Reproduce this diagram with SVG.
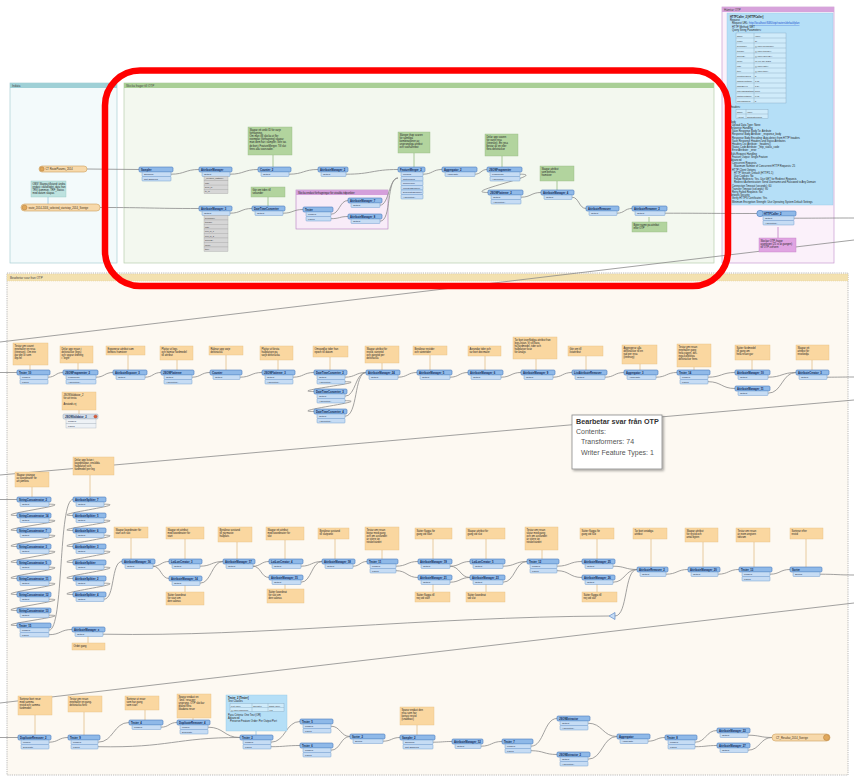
<svg xmlns="http://www.w3.org/2000/svg" width="854" height="778" viewBox="0 0 854 778">
<style>
.nh{fill:#8fb9e8;stroke:#4a7bbd;stroke-width:0.6;rx:1.2}
.np{fill:#c6dcf4;stroke:#6a97ce;stroke-width:0.45;rx:0.8}
.nd{fill:#d3dde9;stroke:#9aaabb;stroke-width:0.5;rx:1.2}
.npd{fill:#eef2f6;stroke:#a8b4c0;stroke-width:0.4}
.gr{fill:#d6d6d6;stroke:#a3a3a3;stroke-width:0.35}
.nt{font-family:"Liberation Sans",Arial,sans-serif;font-size:2.7px;font-weight:bold;fill:#0c2550}
.pt{font-family:"Liberation Sans",Arial,sans-serif;font-size:2.4px;fill:#1d2f4a}
.gt{font-family:"Liberation Sans",Arial,sans-serif;font-size:2.2px;fill:#333}
.at{font-family:"Liberation Sans",Arial,sans-serif;font-size:2.6px;fill:#222}
.bt{font-family:"Liberation Sans",Arial,sans-serif;font-size:3px;fill:#444}
.ao{fill:#fad7a0;stroke:#e5bf80;stroke-width:0.4}
.ag{fill:#b2d49e;stroke:#96bb84;stroke-width:0.4}
.ab{fill:#b5dff7;stroke:#95c7e4;stroke-width:0.4}
.at2{fill:#bde2df;stroke:#93c6c2;stroke-width:0.4}
.ap{fill:#e0a4e2;stroke:#c07fc4;stroke-width:0.4}
.c{fill:none;stroke:#8a8a8a;stroke-width:0.8}
.lo{stroke:#e2c08a;stroke-width:0.8}
.lg{stroke:#96bb84;stroke-width:0.8}
.lp{stroke:#c07fc4;stroke-width:0.8}
.lb{stroke:#95c7e4;stroke-width:0.8}
.rd{fill:#f7d9ab;stroke:#cf9f5c;stroke-width:0.6}
.rdc{fill:#e0a85c;stroke:#b07a3a;stroke-width:0.5}
.rt{font-family:"Liberation Sans",Arial,sans-serif;font-size:2.6px;fill:#3a2a10}
.tb{fill:none;stroke:#7a9cb8;stroke-width:0.35}
</style>
<defs>
<filter id="sh" x="-10%" y="-10%" width="130%" height="130%"><feDropShadow dx="1.5" dy="1.5" stdDeviation="1" flood-color="#000" flood-opacity="0.35"/></filter>
</defs>
<rect width="854" height="778" fill="#ffffff"/>

<g id="bookmarks">
<g id="bm-indata"><rect x="10" y="83" width="107" height="180" fill="#f3fafb" stroke="#a9cfd4" stroke-width="0.7"/><rect x="10" y="83" width="107" height="5" fill="#9fd0d6"/><text class="bt" x="12" y="87">Indata</text></g>
<g id="bm-skicka"><rect x="124" y="83" width="590" height="180" fill="#f3f8ef" stroke="#b8cfae" stroke-width="0.7"/><rect x="124" y="83" width="590" height="5" fill="#a9cf96"/><text class="bt" x="126" y="87">Skicka frågor till OTP</text></g>
<g id="bm-hamtar"><rect x="722" y="7" width="112" height="256" fill="#fbf1fa" stroke="#c99bd0" stroke-width="0.7"/><rect x="722" y="7" width="112" height="5" fill="#d7a3db"/><text class="bt" x="724" y="11">Hämtar OTP</text></g>
<g id="bm-bearbetar"><rect x="7" y="273" width="841" height="502" fill="#fdf9f2" stroke="#a8a8a8" stroke-width="0.8" stroke-dasharray="1.2 1"/><rect x="7" y="274" width="841" height="7" fill="#f3e1b0" stroke="#d8c48e" stroke-width="0.4" stroke-dasharray="1 1"/><text class="bt" x="10" y="279">Bearbetar svar från OTP</text></g>
<g id="bm-urval"><rect x="296" y="190" width="92" height="39" fill="#f8ecf8" stroke="#b57ec0" stroke-width="0.6"/><rect x="296" y="190" width="92" height="5" fill="#d49fdb"/><text class="at" x="298" y="193.6">Skicka endast förfrågningar för utvalda tidpunkter</text></g>
</g>

<g id="connectors">
<path class="c" d="M0,342 L854,240"/>
<path class="c" d="M0,475 L854,400"/>
<path class="c" d="M0,703 L854,603"/>
<path class="c" d="M87,169 L139,169.5"/>
<path class="c" d="M171,174.2 C185,174.2 185,169.5 199,169.5"/>
<path class="c" d="M230,174.2 C244,174.2 244,169.5 258,169.5"/>
<path class="c" d="M289,174.2 C303.5,174.2 303.5,169.5 318,169.5"/>
<path class="c" d="M346,174.2 C372,174.2 372,169.5 398,169.5"/>
<path class="c" d="M100,207.5 C150,207.5 150,208.5 199,208.5"/>
<path class="c" d="M230,213.2 C241,213.2 241,208.5 252,208.5"/>
<path class="c" d="M283,213.2 C293,213.2 293,209.5 303,209.5"/>
<path class="c" d="M331,214.2 C339.5,214.2 339.5,200.5 348,200.5"/>
<path class="c" d="M331,218.7 C339.5,218.7 339.5,216.5 348,216.5"/>
<path class="c" d="M380,205.2 C389,205.2 389,178 398,178"/>
<path class="c" d="M380,221.2 C392,221.2 386,178 398,178"/>
<path class="c" d="M423,174.2 C432.5,174.2 432.5,169.5 442,169.5"/>
<path class="c" d="M475,174.2 C481,174.2 481,169.5 487,169.5"/>
<path class="c" d="M520,174.2 C550,174.2 458,192.5 488,192.5"/>
<path class="c" d="M521,197.2 C531,197.2 531,192.5 541,192.5"/>
<path class="c" d="M572,197.2 C579,197.2 579,208.5 586,208.5"/>
<path class="c" d="M617,213.2 C624.5,213.2 624.5,208.5 632,208.5"/>
<path class="c" d="M665,213.2 C712,213.2 712,213.5 757,213.5"/>
<path class="c" d="M794,218.2 C824,218.2 824,218 854,218"/>
<line class="lg" x1="273" y1="155" x2="273" y2="167"/>
<line class="lg" x1="414" y1="153" x2="414" y2="167"/>
<line class="lg" x1="502" y1="156" x2="502" y2="167"/>
<line class="lg" x1="557" y1="181" x2="557" y2="190"/>
<line class="lg" x1="268" y1="197" x2="268" y2="206"/>
<line class="lg" x1="649" y1="217" x2="649" y2="222"/>
<line class="lb" x1="48" y1="197" x2="48" y2="204"/>
<line class="lp" x1="778" y1="227" x2="778" y2="238"/>
<path class="c" d="M0,372.5 L17,372.5"/>
<path class="c" d="M48,377.2 C55.5,377.2 55.5,372.5 63,372.5"/>
<path class="c" d="M96,377.2 C104.5,377.2 104.5,372.5 113,372.5"/>
<path class="c" d="M145,377.2 C153,377.2 153,372.5 161,372.5"/>
<path class="c" d="M192,377.2 C201,377.2 201,372.5 210,372.5"/>
<path class="c" d="M240,377.2 C251,377.2 251,372.5 262,372.5"/>
<path class="c" d="M293,377.2 C303.5,377.2 303.5,372.5 314,372.5"/>
<path class="c" d="M345,377.2 C355.5,377.2 355.5,372.5 366,372.5"/>
<path class="c" d="M345,381.7 C375,381.7 284,391.5 314,391.5"/>
<path class="c" d="M345,396.2 C356,396.2 355,372.5 366,372.5"/>
<path class="c" d="M345,400.7 C375,400.7 284,411.5 314,411.5"/>
<path class="c" d="M345,416.2 C358,416.2 354,372.5 366,372.5"/>
<path class="c" d="M398,377.2 C407.5,377.2 407.5,372.5 417,372.5"/>
<path class="c" d="M450,377.2 C459,377.2 459,372.5 468,372.5"/>
<path class="c" d="M501,377.2 C511,377.2 511,372.5 521,372.5"/>
<path class="c" d="M553,377.2 C562.5,377.2 562.5,372.5 572,372.5"/>
<path class="c" d="M605,377.2 C614.5,377.2 614.5,372.5 624,372.5"/>
<path class="c" d="M656,377.2 C666.5,377.2 666.5,372.5 677,372.5"/>
<path class="c" d="M708,377.2 C721.5,377.2 721.5,372.5 735,372.5"/>
<path class="c" d="M708,381.7 C721.5,381.7 721.5,388.5 735,388.5"/>
<path class="c" d="M768,377.2 C782,377.2 782,372.5 796,372.5"/>
<path class="c" d="M768,393.2 C782,393.2 782,372.5 796,372.5"/>
<path class="c" d="M827,377.2 C840,377.2 840,377 854,377"/>
<line class="lo" x1="30" y1="365" x2="30" y2="370"/>
<line class="lo" x1="78" y1="363" x2="78" y2="370"/>
<line class="lo" x1="128" y1="355" x2="128" y2="370"/>
<line class="lo" x1="177" y1="360" x2="177" y2="370"/>
<line class="lo" x1="226" y1="355" x2="226" y2="370"/>
<line class="lo" x1="278" y1="360" x2="278" y2="370"/>
<line class="lo" x1="330" y1="357" x2="330" y2="370"/>
<line class="lo" x1="382" y1="363" x2="382" y2="370"/>
<line class="lo" x1="430" y1="355" x2="430" y2="370"/>
<line class="lo" x1="485" y1="356" x2="485" y2="370"/>
<line class="lo" x1="536" y1="359" x2="536" y2="370"/>
<line class="lo" x1="586" y1="356" x2="586" y2="370"/>
<line class="lo" x1="640" y1="364" x2="640" y2="370"/>
<line class="lo" x1="694" y1="367" x2="694" y2="370"/>
<line class="lo" x1="752" y1="360" x2="752" y2="370"/>
<line class="lo" x1="812" y1="360" x2="812" y2="370"/>
<line class="lo" x1="79" y1="410" x2="79" y2="414"/>
<path class="c" d="M0,499.5 L17,499.5"/>
<path class="c" d="M49,504.2 C79,504.2 -13,515.5 17,515.5"/>
<path class="c" d="M49,520.2 C79,520.2 -13,530.5 17,530.5"/>
<path class="c" d="M49,535.2 C79,535.2 -13,546.5 17,546.5"/>
<path class="c" d="M49,551.2 C79,551.2 -13,562.5 17,562.5"/>
<path class="c" d="M49,567.2 C79,567.2 -13,578.5 17,578.5"/>
<path class="c" d="M49,583.2 C79,583.2 -13,594.5 17,594.5"/>
<path class="c" d="M49,599.2 C79,599.2 -13,610.5 17,610.5"/>
<path class="c" d="M49,615.2 C79,615.2 -13,625.5 17,625.5"/>
<path class="c" d="M49,630.2 C64,630.2 58,499.5 73,499.5"/>
<path class="c" d="M49,634.7 C60.5,634.7 60.5,629.5 72,629.5"/>
<path class="c" d="M104,504.2 C134,504.2 43,515.5 73,515.5"/>
<path class="c" d="M104,520.2 C134,520.2 43,530.5 73,530.5"/>
<path class="c" d="M104,535.2 C134,535.2 43,546.5 73,546.5"/>
<path class="c" d="M104,551.2 C134,551.2 43,562.5 73,562.5"/>
<path class="c" d="M104,567.2 C134,567.2 43,578.5 73,578.5"/>
<path class="c" d="M104,583.2 C134,583.2 43,594.5 73,594.5"/>
<path class="c" d="M104,599.2 C115,599.2 111,561.5 122,561.5"/>
<path class="c" d="M103,634.2 C260,637 420,617 609,616"/>
<path class="c" d="M615,616 C628,616 624,569.5 637,569.5"/>
<path class="c" d="M153,566.2 C161,566.2 161,561.5 169,561.5"/>
<path class="c" d="M153,566.2 C161,566.2 161,578.5 169,578.5"/>
<path class="c" d="M200,566.2 C211.5,566.2 211.5,561.5 223,561.5"/>
<path class="c" d="M200,583.2 C211.5,583.2 211.5,561.5 223,561.5"/>
<path class="c" d="M253,566.2 C261,566.2 261,561.5 269,561.5"/>
<path class="c" d="M253,566.2 C261,566.2 261,577.5 269,577.5"/>
<path class="c" d="M301,566.2 C311.5,566.2 311.5,561.5 322,561.5"/>
<path class="c" d="M301,582.2 C311.5,582.2 311.5,561.5 322,561.5"/>
<path class="c" d="M353,566.2 C360,566.2 360,561.5 367,561.5"/>
<path class="c" d="M396,566.2 C407,566.2 407,561.5 418,561.5"/>
<path class="c" d="M396,570.7 C407,570.7 407,577.5 418,577.5"/>
<path class="c" d="M450,566.2 C460,566.2 460,561.5 470,561.5"/>
<path class="c" d="M450,566.2 C460,566.2 460,577.5 470,577.5"/>
<path class="c" d="M450,582.2 C460,582.2 460,577.5 470,577.5"/>
<path class="c" d="M503,566.2 C515,566.2 515,561.5 527,561.5"/>
<path class="c" d="M503,582.2 C515,582.2 515,561.5 527,561.5"/>
<path class="c" d="M557,566.2 C569.5,566.2 569.5,561.5 582,561.5"/>
<path class="c" d="M557,570.7 C569.5,570.7 569.5,577.5 582,577.5"/>
<path class="c" d="M613,566.2 C625,566.2 625,569.5 637,569.5"/>
<path class="c" d="M613,582.2 C625,582.2 625,569.5 637,569.5"/>
<path class="c" d="M666,574.2 C677,574.2 677,569.5 688,569.5"/>
<path class="c" d="M718,574.2 C728.5,574.2 728.5,569.5 739,569.5"/>
<path class="c" d="M770,574.2 C780,574.2 780,569.5 790,569.5"/>
<path class="c" d="M820,574.2 C837,574.2 837,575 854,575"/>
<line class="lo" x1="32" y1="487" x2="32" y2="497"/>
<line class="lo" x1="90" y1="475" x2="90" y2="497"/>
<line class="lo" x1="131" y1="538" x2="131" y2="559"/>
<line class="lo" x1="185" y1="539" x2="185" y2="559"/>
<line class="lo" x1="185" y1="585" x2="185" y2="592"/>
<line class="lo" x1="237" y1="542" x2="237" y2="559"/>
<line class="lo" x1="285" y1="540" x2="285" y2="559"/>
<line class="lo" x1="285" y1="584" x2="285" y2="589"/>
<line class="lo" x1="335" y1="539" x2="335" y2="559"/>
<line class="lo" x1="382" y1="550" x2="382" y2="559"/>
<line class="lo" x1="433" y1="539" x2="433" y2="559"/>
<line class="lo" x1="433" y1="584" x2="433" y2="592"/>
<line class="lo" x1="486" y1="539" x2="486" y2="559"/>
<line class="lo" x1="486" y1="584" x2="486" y2="592"/>
<line class="lo" x1="542" y1="550" x2="542" y2="559"/>
<line class="lo" x1="597" y1="539" x2="597" y2="559"/>
<line class="lo" x1="597" y1="584" x2="597" y2="592"/>
<line class="lo" x1="651" y1="539" x2="651" y2="567"/>
<line class="lo" x1="703" y1="542" x2="703" y2="567"/>
<line class="lo" x1="754" y1="542" x2="754" y2="567"/>
<line class="lo" x1="806" y1="539" x2="806" y2="567"/>
<line class="lo" x1="88" y1="636" x2="88" y2="643"/>
<path class="c" d="M0,737.5 L18,737.5"/>
<path class="c" d="M49,742.2 C58.5,742.2 58.5,737.5 68,737.5"/>
<path class="c" d="M98,742.2 C113.5,742.2 113.5,722.5 129,722.5"/>
<path class="c" d="M98,746.7 C170,748 175,737.5 240,737.5"/>
<path class="c" d="M161,727.2 C169,727.2 169,722.5 177,722.5"/>
<path class="c" d="M208,727.2 C224,727.2 224,737.5 240,737.5"/>
<path class="c" d="M271,742.2 C285.5,742.2 285.5,721.5 300,721.5"/>
<path class="c" d="M271,746.7 C285.5,746.7 285.5,745.5 300,745.5"/>
<path class="c" d="M331,726.2 C340.5,726.2 340.5,736.5 350,736.5"/>
<path class="c" d="M331,750.2 C340.5,750.2 340.5,736.5 350,736.5"/>
<path class="c" d="M383,741.2 C391.5,741.2 391.5,737.5 400,737.5"/>
<path class="c" d="M433,742.2 C442.5,742.2 442.5,741.5 452,741.5"/>
<path class="c" d="M481,746.2 C491.5,746.2 491.5,741.5 502,741.5"/>
<path class="c" d="M531,746.2 C544,746.2 544,718.5 557,718.5"/>
<path class="c" d="M531,750.7 C544,750.7 544,754.5 557,754.5"/>
<path class="c" d="M588,723.2 C602.5,723.2 602.5,736.5 617,736.5"/>
<path class="c" d="M588,759.2 C602.5,759.2 602.5,736.5 617,736.5"/>
<path class="c" d="M648,741.2 C656.5,741.2 656.5,737.5 665,737.5"/>
<path class="c" d="M695,742.2 C706,742.2 706,730.5 717,730.5"/>
<path class="c" d="M695,746.7 C706,746.7 706,745.5 717,745.5"/>
<path class="c" d="M748,735.2 C760,735.2 760,737.5 772,737.5"/>
<path class="c" d="M748,750.2 C760,750.2 760,737.5 772,737.5"/>
<line class="lo" x1="35" y1="715" x2="35" y2="735"/>
<line class="lo" x1="84" y1="712" x2="84" y2="735"/>
<line class="lo" x1="145" y1="710" x2="145" y2="720"/>
<line class="lo" x1="193" y1="718" x2="193" y2="720"/>
<line class="lb" x1="256" y1="731" x2="256" y2="735"/>
<line class="lo" x1="417" y1="725" x2="417" y2="735"/>
<polygon id="junction" points="609,616 615,612.5 615,619.5" fill="#c6dcf4" stroke="#4a7bbd" stroke-width="0.6"/>
</g>

<g id="annotations">
<g id="a-indata"><rect class="at2" x="31" y="181" width="35" height="16"/><text class="at" x="32.5" y="184.5">OBS! Skarpa tillstånd: ändra<tspan x="32.5" dy="3.2">endast i dataflödet, data från</tspan><tspan x="32.5" dy="3.2">TRV, kommun, TRF_Status</tspan><tspan x="32.5" dy="3.2">med datum skapas</tspan></text></g>
<g id="a-counter"><rect class="ag" x="248" y="127" width="44" height="28"/><text class="at" x="249.5" y="130.5">Skapar ett unikt ID för varje<tspan x="249.5" dy="3.2">förfrågning.</tspan><tspan x="249.5" dy="3.2">Om man vill skicka ut fler</tspan><tspan x="249.5" dy="3.2">exemplar (förfrågning) skapar</tspan><tspan x="249.5" dy="3.2">man dem här i sampler. Sen tas</tspan><tspan x="249.5" dy="3.2">de bort i FeatureMerger. Till slut</tspan><tspan x="249.5" dy="3.2">finns alla svarsrader.</tspan></text></g>
<g id="a-dtc"><rect class="ag" x="251" y="187" width="34" height="10"/><text class="at" x="252.5" y="190.5">Gör om tiden till<tspan x="252.5" dy="3.2">sekunder</tspan></text></g>
<g id="a-fm"><rect class="ag" x="398" y="132" width="32" height="21"/><text class="at" x="399.5" y="135.5">Slänger ihop svaren<tspan x="399.5" dy="3.2">för samtliga</tspan><tspan x="399.5" dy="3.2">kombinationer av</tspan><tspan x="399.5" dy="3.2">ursprungliga attribut</tspan><tspan x="399.5" dy="3.2">och svarsattribut</tspan></text></g>
<g id="a-frag"><rect class="ag" x="485" y="134" width="33" height="22"/><text class="at" x="486.5" y="137.5">Delar upp svaren<tspan x="486.5" dy="3.2">för varje resa</tspan><tspan x="486.5" dy="3.2">(itinerary). En resa</tspan><tspan x="486.5" dy="3.2">består av en eller</tspan><tspan x="486.5" dy="3.2">flera delsträckor</tspan></text></g>
<g id="a-am4"><rect class="ag" x="540" y="166" width="34" height="15"/><text class="at" x="541.5" y="169.5">Skapar attribut<tspan x="541.5" dy="3.2">som behövs</tspan><tspan x="541.5" dy="3.2">framöver</tspan></text></g>
<g id="a-ren"><rect class="ag" x="632" y="222" width="35" height="10"/><text class="at" x="633.5" y="225.5">Byter namn på attribut<tspan x="633.5" dy="3.2">inför OTP</tspan></text></g>
<g id="a-http-info"><rect class="ab" x="727" y="13" width="106" height="192"/>
<text class="at" x="730" y="17.5" font-weight="bold" font-size="2.7">HTTPCaller_2 [HTTPCaller]</text>
<text class="at" x="730" y="21" font-size="2.4">Request</text>
<text class="at" x="732" y="24.3" font-size="2.4">Request URL: <tspan fill="#1a4fd0" text-decoration="underline">http://localhost:8080/otp/routers/default/plan</tspan></text>
<text class="at" x="732" y="27.6" font-size="2.4">HTTP Method: GET</text>
<text class="at" x="732" y="30.9" font-size="2.4">Query String Parameters:</text>
<rect x="736" y="33" width="50" height="70" fill="#cfebfa" stroke="#7a9cb8" stroke-width="0.35"/>
<path class="tb" d="M754,33 V103 M736,38 H786 M736,43 H786 M736,48 H786 M736,53 H786 M736,58 H786 M736,63 H786 M736,68 H786 M736,73 H786 M736,78 H786 M736,83 H786 M736,88 H786 M736,93 H786 M736,98 H786"/>
<text class="gt" x="737" y="36.5">Name<tspan x="755" y="36.5">Value</tspan></text>
<text class="gt" x="737" y="41.5">locale<tspan x="755" y="41.5">sv</tspan></text>
<text class="gt" x="737" y="46.5">fromPlace<tspan x="755" y="46.5">@Value(fromPlace)</tspan></text>
<text class="gt" x="737" y="51.5">toPlace<tspan x="755" y="51.5">@Value(toPlace)</tspan></text>
<text class="gt" x="737" y="56.5">arriveBy<tspan x="755" y="56.5">@Value(arriveBy)</tspan></text>
<text class="gt" x="737" y="61.5">mode<tspan x="755" y="61.5">WALK,TRANSIT</tspan></text>
<text class="gt" x="737" y="66.5">date<tspan x="755" y="66.5">@Value(date)</tspan></text>
<text class="gt" x="737" y="71.5">time<tspan x="755" y="71.5">@Value(time)</tspan></text>
<text class="gt" x="737" y="76.5">numItineraries<tspan x="755" y="76.5">3</tspan></text>
<text class="gt" x="737" y="81.5">walkReluctance<tspan x="755" y="81.5">1.75</tspan></text>
<text class="gt" x="737" y="86.5">walkSpeed<tspan x="755" y="86.5">1.34</tspan></text>
<text class="gt" x="737" y="91.5">maxWalkDistance<tspan x="755" y="91.5">1000</tspan></text>
<text class="gt" x="737" y="96.5">waitReluctance<tspan x="755" y="96.5">0.95</tspan></text>
<text class="gt" x="737" y="101.5">maxTransfers<tspan x="755" y="101.5">5</tspan></text>
<text class="at" x="730" y="108" font-size="2.4">Headers:</text>
<rect x="736" y="109.5" width="32" height="9" fill="#cfebfa" stroke="#7a9cb8" stroke-width="0.35"/>
<path class="tb" d="M746,109.5 V118.5 M736,114 H768"/>
<text class="gt" x="737" y="113">Name<tspan x="747" y="113">Value</tspan></text>
<text class="gt" x="737" y="117.5">Accept<tspan x="747" y="117.5">application/json</tspan></text>
<text class="at" x="730" y="122.5" font-size="2.4">Body<tspan x="732" dy="3.2">Upload Data Type: None</tspan><tspan x="730" dy="3.2">Response Handling</tspan><tspan x="732" dy="3.2">Save Response Body To: Attribute</tspan><tspan x="732" dy="3.2">Response Body Attribute: _response_body</tspan><tspan x="732" dy="3.2">Response Body Encoding: Auto-detect from HTTP headers</tspan><tspan x="732" dy="3.2">Save Response Headers and Status Attributes</tspan><tspan x="732" dy="3.2">Headers List Attribute: _headers{}</tspan><tspan x="732" dy="3.2">Status Code Attribute: _http_status_code</tspan><tspan x="732" dy="3.2">Error Attribute: _error</tspan><tspan x="730" dy="3.2">Multi-Request Handling</tspan><tspan x="732" dy="3.2">Feature Output: Single Feature</tspan><tspan x="730" dy="3.2">Advanced</tspan><tspan x="732" dy="3.2">Concurrent Requests</tspan><tspan x="734" dy="3.2">Maximum Number of Concurrent HTTP Requests: 25</tspan><tspan x="732" dy="3.2">HTTP Client Options</tspan><tspan x="734" dy="3.2">HTTP Version: Default (HTTP/1.1)</tspan><tspan x="734" dy="3.2">Use Cookies: No</tspan><tspan x="734" dy="3.2">Follow Redirects: Yes, Use GET for Redirect Requests</tspan><tspan x="734" dy="3.2">Redirect Authentication: Send Username and Password to Any Domain</tspan><tspan x="732" dy="3.2">Connection Timeout (seconds): 60</tspan><tspan x="732" dy="3.2">Transfer Timeout (seconds): 90</tspan><tspan x="732" dy="3.2">Retry Failed Requests: No</tspan><tspan x="730" dy="3.2">Network Security</tspan><tspan x="732" dy="3.2">Verify HTTPS Certificates: Yes</tspan><tspan x="732" dy="3.2">Minimum Encryption Strength: Use Operating System Default Settings</tspan></text>
</g>
<g id="a-http"><rect class="ap" x="759" y="238" width="37" height="14"/><text class="at" x="760.5" y="241.5">Skickar OTP-frågor<tspan x="760.5" dy="3.2">asynkront (25 st åt gången)</tspan><tspan x="760.5" dy="3.2">till OTP-servern</tspan></text></g>

<g id="a-r1-1"><rect class="ao" x="13" y="343" width="35" height="22"/><text class="at" x="14.5" y="346.5">Testar om svaret<tspan x="14.5" dy="3.2">innehåller en resa</tspan><tspan x="14.5" dy="3.2">(itinerary). Om inte</tspan><tspan x="14.5" dy="3.2">går det ut som</tspan><tspan x="14.5" dy="3.2">otp-fel</tspan></text></g>
<g id="a-r1-2"><rect class="ao" x="60" y="346" width="33" height="17"/><text class="at" x="61.5" y="349.5">Delar upp resan i<tspan x="61.5" dy="3.2">delsträckor (legs)</tspan><tspan x="61.5" dy="3.2">och sparar ordning</tspan><tspan x="61.5" dy="3.2">i "legnr"</tspan></text></g>
<g id="a-r1-3"><rect class="ao" x="106" y="346" width="39" height="9"/><text class="at" x="107.5" y="349.5">Exponerar attribut som<tspan x="107.5" dy="3.2">behövs framöver</tspan></text></g>
<g id="a-r1-4"><rect class="ao" x="160" y="346" width="33" height="14"/><text class="at" x="161.5" y="349.5">Plattar ut legs<tspan x="161.5" dy="3.2">och hämtar färdmedel</tspan><tspan x="161.5" dy="3.2">till attribut</tspan></text></g>
<g id="a-r1-5"><rect class="ao" x="209" y="346" width="34" height="9"/><text class="at" x="210.5" y="349.5">Räknar upp varje<tspan x="210.5" dy="3.2">delsträcka</tspan></text></g>
<g id="a-r1-6"><rect class="ao" x="260" y="346" width="33" height="14"/><text class="at" x="261.5" y="349.5">Plattar ut första<tspan x="261.5" dy="3.2">hållplatsen på</tspan><tspan x="261.5" dy="3.2">varje delsträcka</tspan></text></g>
<g id="a-r1-7"><rect class="ao" x="313" y="346" width="35" height="11"/><text class="at" x="314.5" y="349.5">Omvandlar tider från<tspan x="314.5" dy="3.2">epoch till datum</tspan></text></g>
<g id="a-r1-8"><rect class="ao" x="365" y="346" width="34" height="17"/><text class="at" x="366.5" y="349.5">Skapar attribut för<tspan x="366.5" dy="3.2">restid, väntetid</tspan><tspan x="366.5" dy="3.2">och gångtid per</tspan><tspan x="366.5" dy="3.2">delsträcka</tspan></text></g>
<g id="a-r1-9"><rect class="ao" x="413" y="346" width="34" height="9"/><text class="at" x="414.5" y="349.5">Beräknar restider<tspan x="414.5" dy="3.2">och väntetider</tspan></text></g>
<g id="a-r1-10"><rect class="ao" x="468" y="346" width="33" height="10"/><text class="at" x="469.5" y="349.5">Avrundar tider och<tspan x="469.5" dy="3.2">tar bort decimaler</tspan></text></g>
<g id="a-r1-11"><rect class="ao" x="513" y="337" width="44" height="22"/><text class="at" x="514.5" y="340.5">Tar bort överflödiga attribut från<tspan x="514.5" dy="3.2">legs-listan. Vi vill bara</tspan><tspan x="514.5" dy="3.2">ha färdmedel, tider och</tspan><tspan x="514.5" dy="3.2">hållplatser kvar</tspan><tspan x="514.5" dy="3.2">för analys</tspan></text></g>
<g id="a-r1-12"><rect class="ao" x="568" y="346" width="35" height="10"/><text class="at" x="569.5" y="349.5">Gör om till<tspan x="569.5" dy="3.2">listattribut</tspan></text></g>
<g id="a-r1-13"><rect class="ao" x="622" y="345" width="35" height="19"/><text class="at" x="623.5" y="348.5">Aggregerar alla<tspan x="623.5" dy="3.2">delsträckor till en</tspan><tspan x="623.5" dy="3.2">rad per resa</tspan><tspan x="623.5" dy="3.2">(itinerary)</tspan></text></g>
<g id="a-r1-14"><rect class="ao" x="677" y="344" width="34" height="23"/><text class="at" x="678.5" y="347.5">Testar om resan<tspan x="678.5" dy="3.2">innehåller gång</tspan><tspan x="678.5" dy="3.2">hela vägen, dvs.</tspan><tspan x="678.5" dy="3.2">inga kollektiva</tspan><tspan x="678.5" dy="3.2">delsträckor finns</tspan></text></g>
<g id="a-r1-15"><rect class="ao" x="735" y="345" width="35" height="15"/><text class="at" x="736.5" y="348.5">Sätter färdmedel<tspan x="736.5" dy="3.2">till gång om</tspan><tspan x="736.5" dy="3.2">hela resan går</tspan></text></g>
<g id="a-r1-17"><rect class="ao" x="796" y="345" width="33" height="15"/><text class="at" x="797.5" y="348.5">Skapar ett<tspan x="797.5" dy="3.2">attribut för</tspan><tspan x="797.5" dy="3.2">resekedja</tspan></text></g>
<g id="a-r1-dis"><rect class="ao" x="62" y="392" width="34" height="18"/><text class="at" x="63.5" y="395.5">JSONValidator_2<tspan x="63.5" dy="3.2">för att testa</tspan><tspan x="63.5" dy="6.4">Används ej</tspan></text></g>

<g id="a-c1"><rect class="ao" x="15" y="472" width="34" height="15"/><text class="at" x="16.5" y="475.5">Skapar strängar<tspan x="16.5" dy="3.2">av koordinater för</tspan><tspan x="16.5" dy="3.2">att jämföra</tspan></text></g>
<g id="a-c2"><rect class="ao" x="73" y="457" width="41" height="18"/><text class="at" x="74.5" y="460.5">Delar upp listan i<tspan x="74.5" dy="3.2">koordinatpar, enskilda</tspan><tspan x="74.5" dy="3.2">hållplatser och</tspan><tspan x="74.5" dy="3.2">färdmedel per leg</tspan></text></g>
<g id="a-amx"><rect class="ao" x="72" y="643" width="33" height="7"/><text class="at" x="73.5" y="647.3">Ordet gång</text></g>
<g id="a-r2-1"><rect class="ao" x="114" y="527" width="34" height="11"/><text class="at" x="115.5" y="530.5">Skapar koordinater för<tspan x="115.5" dy="3.2">start och slut</tspan></text></g>
<g id="a-r2-2"><rect class="ao" x="166" y="527" width="38" height="12"/><text class="at" x="167.5" y="530.5">Skapar ett attribut<tspan x="167.5" dy="3.2">med koordinater för</tspan><tspan x="167.5" dy="3.2">start</tspan></text></g>
<g id="a-r2-2b"><rect class="ao" x="166" y="592" width="38" height="13"/><text class="at" x="167.5" y="595.5">Sätter koordinat<tspan x="167.5" dy="3.2">för start om</tspan><tspan x="167.5" dy="3.2">den saknas</tspan></text></g>
<g id="a-r2-3"><rect class="ao" x="218" y="527" width="34" height="15"/><text class="at" x="219.5" y="530.5">Beräknar avstånd<tspan x="219.5" dy="3.2">till närmaste</tspan><tspan x="219.5" dy="3.2">hållplats</tspan></text></g>
<g id="a-r2-4"><rect class="ao" x="266" y="527" width="38" height="13"/><text class="at" x="267.5" y="530.5">Skapar ett attribut<tspan x="267.5" dy="3.2">med koordinater för</tspan><tspan x="267.5" dy="3.2">slut</tspan></text></g>
<g id="a-r2-4b"><rect class="ao" x="267" y="589" width="37" height="14"/><text class="at" x="268.5" y="592.5">Sätter koordinat<tspan x="268.5" dy="3.2">för slut om</tspan><tspan x="268.5" dy="3.2">den saknas</tspan></text></g>
<g id="a-r2-5"><rect class="ao" x="318" y="528" width="31" height="11"/><text class="at" x="319.5" y="531.5">Beräknar avstånd<tspan x="319.5" dy="3.2">till slutpunkt</tspan></text></g>
<g id="a-r2-6"><rect class="ao" x="365" y="527" width="34" height="23"/><text class="at" x="366.5" y="530.5">Testar om resan<tspan x="366.5" dy="3.2">börjar med gång</tspan><tspan x="366.5" dy="3.2">och om avståndet</tspan><tspan x="366.5" dy="3.2">är större än</tspan><tspan x="366.5" dy="3.2">tröskelvärdet</tspan></text></g>
<g id="a-r2-7"><rect class="ao" x="415" y="528" width="37" height="11"/><text class="at" x="416.5" y="531.5">Sätter flagga för<tspan x="416.5" dy="3.2">gång vid start</tspan></text></g>
<g id="a-r2-7b"><rect class="ao" x="415" y="592" width="35" height="10"/><text class="at" x="416.5" y="595.5">Sätter flagga till<tspan x="416.5" dy="3.2">nej vid start</tspan></text></g>
<g id="a-r2-8"><rect class="ao" x="466" y="528" width="39" height="11"/><text class="at" x="467.5" y="531.5">Skapar attribut för<tspan x="467.5" dy="3.2">gång vid slut</tspan></text></g>
<g id="a-r2-8b"><rect class="ao" x="466" y="592" width="39" height="10"/><text class="at" x="467.5" y="595.5">Sätter koordinat<tspan x="467.5" dy="3.2">vid slut</tspan></text></g>
<g id="a-r2-9"><rect class="ao" x="525" y="527" width="33" height="23"/><text class="at" x="526.5" y="530.5">Testar om resan<tspan x="526.5" dy="3.2">slutar med gång</tspan><tspan x="526.5" dy="3.2">och om avståndet</tspan><tspan x="526.5" dy="3.2">är större än</tspan><tspan x="526.5" dy="3.2">tröskelvärdet</tspan></text></g>
<g id="a-r2-10"><rect class="ao" x="580" y="528" width="34" height="11"/><text class="at" x="581.5" y="531.5">Sätter flagga för<tspan x="581.5" dy="3.2">gång vid slut</tspan></text></g>
<g id="a-r2-10b"><rect class="ao" x="582" y="592" width="35" height="10"/><text class="at" x="583.5" y="595.5">Sätter flagga till<tspan x="583.5" dy="3.2">nej vid slut</tspan></text></g>
<g id="a-r2-11"><rect class="ao" x="633" y="528" width="34" height="11"/><text class="at" x="634.5" y="531.5">Tar bort onödiga<tspan x="634.5" dy="3.2">attribut</tspan></text></g>
<g id="a-r2-12"><rect class="ao" x="685" y="528" width="33" height="14"/><text class="at" x="686.5" y="531.5">Skapar attribut<tspan x="686.5" dy="3.2">för restid och</tspan><tspan x="686.5" dy="3.2">antal byten</tspan></text></g>
<g id="a-r2-13"><rect class="ao" x="736" y="528" width="34" height="14"/><text class="at" x="737.5" y="531.5">Testar om resan<tspan x="737.5" dy="3.2">är inom angiven</tspan><tspan x="737.5" dy="3.2">tidsram</tspan></text></g>
<g id="a-r2-14"><rect class="ao" x="790" y="528" width="33" height="11"/><text class="at" x="791.5" y="531.5">Sorterar efter<tspan x="791.5" dy="3.2">restid</tspan></text></g>

<g id="a-r3-1"><rect class="ao" x="18" y="696" width="34" height="19"/><text class="at" x="19.5" y="699.5">Sorterar bort resor<tspan x="19.5" dy="3.2">med samma</tspan><tspan x="19.5" dy="3.2">restid och samma</tspan><tspan x="19.5" dy="3.2">färdmedel</tspan></text></g>
<g id="a-r3-2"><rect class="ao" x="68" y="696" width="34" height="16"/><text class="at" x="69.5" y="699.5">Testar om resan<tspan x="69.5" dy="3.2">innehåller en gång-</tspan><tspan x="69.5" dy="3.2">delsträcka först</tspan></text></g>
<g id="a-r3-3"><rect class="ao" x="125" y="696" width="34" height="14"/><text class="at" x="126.5" y="699.5">Sorterar ut resor<tspan x="126.5" dy="3.2">som har gång</tspan><tspan x="126.5" dy="3.2">som start</tspan></text></g>
<g id="a-r3-4"><rect class="ao" x="177" y="694" width="34" height="24"/><text class="at" x="178.5" y="697.5">Sparar endast en<tspan x="178.5" dy="3.2">"unik" resa per</tspan><tspan x="178.5" dy="3.2">ursprung. OTP skickar</tspan><tspan x="178.5" dy="3.2">ibland flera</tspan><tspan x="178.5" dy="3.2">likadana resor</tspan></text></g>
<g id="a-r3-info"><rect class="ab" x="226" y="695" width="61" height="36"/>
<text class="at" x="228" y="699" font-weight="bold" font-size="2.7">Tester_2 [Tester]</text>
<text class="at" x="228" y="702.3" font-size="2.4">Test Clauses</text>
<rect x="230" y="703.5" width="54" height="8" fill="#cfebfa" stroke="#7a9cb8" stroke-width="0.35"/>
<path class="tb" d="M252,703.5 V711.5 M268,703.5 V711.5 M230,707.5 H284"/>
<text class="gt" x="231" y="706.5">Left Value<tspan x="253" y="706.5">Operator</tspan><tspan x="269" y="706.5">Right Value</tspan></text>
<text class="gt" x="231" y="710.5">@Value(planning)<tspan x="253" y="710.5">=</tspan><tspan x="269" y="710.5">Yes</tspan></text>
<text class="at" x="228" y="715.5" font-size="2.4">Pass Criteria: One Test (OR)<tspan x="228" dy="3.2">Advanced</tspan><tspan x="230" dy="3.2">Preserve Feature Order: Per Output Port</tspan></text>
</g>
<g id="a-r3-9"><rect class="ao" x="400" y="707" width="34" height="18"/><text class="at" x="401.5" y="710.5">Sparar endast den<tspan x="401.5" dy="3.2">resa som har</tspan><tspan x="401.5" dy="3.2">kortast restid</tspan><tspan x="401.5" dy="3.2">(snabbast)</tspan></text></g>
</g>

<g id="nodes">
<g id="r-routeparams"><rect class="rd" x="39" y="166" width="48" height="6" rx="3"/><circle class="rdc" cx="42" cy="169" r="2.2"/><text class="rt" x="45.5" y="170">CT RouteParams_2014</text></g>
<g id="r-route"><rect class="rd" x="21" y="204" width="79" height="7" rx="3.5"/><circle class="rdc" cx="24.5" cy="207.5" r="2.5"/><text class="rt" x="28.5" y="208.5">route_2014-2016_selected_startstop_2014_Sverige</text></g>

<g id="n-sampler" transform="translate(139,167)"><rect class="nh" width="34" height="5"/><text class="nt" x="2" y="3.6">Sampler</text><rect class="np" x="3" y="5" width="29" height="4.5"/><text class="pt" x="5" y="8.2">Sampled</text><rect class="np" x="3" y="9.5" width="29" height="4.5"/><text class="pt" x="5" y="12.7">Not Sampled</text></g>
<g id="n-am1" transform="translate(199,167)"><rect class="nh" width="33" height="5"/><text class="nt" x="2" y="3.6">AttributeManager</text><rect class="np" x="3" y="5" width="28" height="4.5"/><text class="pt" x="5" y="8.2">Output</text><rect class="gr" x="5" y="9.5" width="24" height="4.3"/><text class="gt" x="6" y="12.4">_creation_instance</text><rect class="gr" x="5" y="13.8" width="24" height="4.3"/><text class="gt" x="6" y="16.7">date</text><rect class="gr" x="5" y="18.1" width="24" height="4.3"/><text class="gt" x="6" y="21">from_id</text><rect class="gr" x="5" y="22.4" width="24" height="4.3"/><text class="gt" x="6" y="25.3">to_id</text></g>
<g id="n-counter2" transform="translate(258,167)"><rect class="nh" width="33" height="5"/><text class="nt" x="2" y="3.6">Counter_2</text><rect class="np" x="3" y="5" width="28" height="4.5"/><text class="pt" x="5" y="8.2">Output</text></g>
<g id="n-am2" transform="translate(318,167)"><rect class="nh" width="30" height="5"/><text class="nt" x="2" y="3.6">AttributeManager_2</text><rect class="np" x="3" y="5" width="25" height="4.5"/><text class="pt" x="5" y="8.2">Output</text></g>
<g id="n-fm2" transform="translate(398,167)"><rect class="nh" width="27" height="5"/><text class="nt" x="2" y="3.6">FeatureMerger_2</text><rect class="np" x="3" y="5" width="22" height="4.5"/><text class="pt" x="5" y="8.2">Merged</text><rect class="np" x="3" y="9.5" width="22" height="4.5"/><text class="pt" x="5" y="12.7">NotMerged</text><rect class="np" x="3" y="14" width="22" height="4.5"/><text class="pt" x="5" y="17.2">Referencer</text><rect class="np" x="3" y="18.5" width="22" height="4.5"/><text class="pt" x="5" y="21.7">UnusedSupplier</text><rect class="np" x="3" y="23" width="22" height="4.5"/><text class="pt" x="5" y="26.2">DuplicateSupplier</text><rect class="np" x="3" y="27.5" width="22" height="4.5"/><text class="pt" x="5" y="30.7">&lt;Rejected&gt;</text></g>
<g id="n-agg2" transform="translate(442,167)"><rect class="nh" width="35" height="5"/><text class="nt" x="2" y="3.6">Aggregator_2</text><rect class="np" x="3" y="5" width="30" height="4.5"/><text class="pt" x="5" y="8.2">Aggregate</text></g>
<g id="n-frag" transform="translate(487,167)"><rect class="nh" width="35" height="5"/><text class="nt" x="2" y="3.6">JSONFragmenter</text><rect class="np" x="3" y="5" width="30" height="4.5"/><text class="pt" x="5" y="8.2">Fragments</text><rect class="np" x="3" y="9.5" width="30" height="4.5"/><text class="pt" x="5" y="12.7">&lt;Rejected&gt;</text></g>
<g id="n-flat2" transform="translate(488,190)"><rect class="nh" width="35" height="5"/><text class="nt" x="2" y="3.6">JSONFlattener_2</text><rect class="np" x="3" y="5" width="30" height="4.5"/><text class="pt" x="5" y="8.2">Output</text><rect class="np" x="3" y="9.5" width="30" height="4.5"/><text class="pt" x="5" y="12.7">&lt;Rejected&gt;</text></g>
<g id="n-am4" transform="translate(541,190)"><rect class="nh" width="33" height="5"/><text class="nt" x="2" y="3.6">AttributeManager_4</text><rect class="np" x="3" y="5" width="28" height="4.5"/><text class="pt" x="5" y="8.2">Output</text></g>
<g id="n-arem" transform="translate(586,206)"><rect class="nh" width="33" height="5"/><text class="nt" x="2" y="3.6">AttributeRemover</text><rect class="np" x="3" y="5" width="28" height="4.5"/><text class="pt" x="5" y="8.2">Output</text></g>
<g id="n-aren2" transform="translate(632,206)"><rect class="nh" width="35" height="5"/><text class="nt" x="2" y="3.6">AttributeRenamer_2</text><rect class="np" x="3" y="5" width="30" height="4.5"/><text class="pt" x="5" y="8.2">Output</text></g>
<g id="n-http2" transform="translate(760,211)"><rect class="nh" width="36" height="5"/><circle cx="0" cy="2.5" r="3.2" fill="#8fb9e8" stroke="#4a7bbd" stroke-width="0.6"/><text class="nt" x="4" y="3.6">HTTPCaller_2</text><rect class="np" x="3" y="5" width="31" height="4.5"/><text class="pt" x="5" y="8.2">Output</text><rect class="np" x="3" y="9.5" width="31" height="4.5"/><text class="pt" x="5" y="12.7">&lt;Rejected&gt;</text></g>
<g id="n-am3" transform="translate(199,206)"><rect class="nh" width="33" height="5"/><text class="nt" x="2" y="3.6">AttributeManager_3</text><rect class="np" x="3" y="5" width="28" height="4.5"/><text class="pt" x="5" y="8.2">Output</text><rect class="gr" x="5" y="9.5" width="24" height="4.5"/><text class="gt" x="6" y="12.5">fromPlace</text><rect class="gr" x="5" y="14" width="24" height="4.5"/><text class="gt" x="6" y="17">toPlace</text><rect class="gr" x="5" y="18.5" width="24" height="4.5"/><text class="gt" x="6" y="21.5">date</text><rect class="gr" x="5" y="23" width="24" height="4.5"/><text class="gt" x="6" y="26">dep_id_1</text><rect class="gr" x="5" y="27.5" width="24" height="4.5"/><text class="gt" x="6" y="30.5">dep_id_2</text><rect class="gr" x="5" y="32" width="24" height="4.5"/><text class="gt" x="6" y="35">arriveBy</text><rect class="gr" x="5" y="36.5" width="24" height="4.5"/><text class="gt" x="6" y="39.5">mode</text><rect class="gr" x="5" y="41" width="24" height="4.5"/><text class="gt" x="6" y="44">time</text></g>
<g id="n-dtc" transform="translate(252,206)"><rect class="nh" width="33" height="5"/><text class="nt" x="2" y="3.6">DateTimeConverter</text><rect class="np" x="3" y="5" width="28" height="4.5"/><text class="pt" x="5" y="8.2">Output</text></g>
<g id="n-tester" transform="translate(303,207)"><rect class="nh" width="30" height="5"/><text class="nt" x="2" y="3.6">Tester</text><rect class="np" x="3" y="5" width="25" height="4.5"/><text class="pt" x="5" y="8.2">Passed</text><rect class="np" x="3" y="9.5" width="25" height="4.5"/><text class="pt" x="5" y="12.7">Failed</text></g>
<g id="n-am7" transform="translate(348,198)"><rect class="nh" width="34" height="5"/><text class="nt" x="2" y="3.6">AttributeManager_7</text><rect class="np" x="3" y="5" width="29" height="4.5"/><text class="pt" x="5" y="8.2">Output</text></g>
<g id="n-am8" transform="translate(348,214)"><rect class="nh" width="34" height="5"/><text class="nt" x="2" y="3.6">AttributeManager_8</text><rect class="np" x="3" y="5" width="29" height="4.5"/><text class="pt" x="5" y="8.2">Output</text></g>

<g id="n-r1-1" transform="translate(17,370)"><rect class="nh" width="33" height="5"/><text class="nt" x="2" y="3.6">Tester_10</text><rect class="np" x="3" y="5" width="28" height="4.5"/><text class="pt" x="5" y="8.2">Passed</text><rect class="np" x="3" y="9.5" width="28" height="4.5"/><text class="pt" x="5" y="12.7">Failed</text></g>
<g id="n-r1-2" transform="translate(63,370)"><rect class="nh" width="35" height="5"/><text class="nt" x="2" y="3.6">JSONFragmenter_2</text><rect class="np" x="3" y="5" width="30" height="4.5"/><text class="pt" x="5" y="8.2">Fragments</text><rect class="np" x="3" y="9.5" width="30" height="4.5"/><text class="pt" x="5" y="12.7">&lt;Rejected&gt;</text></g>
<g id="n-r1-3" transform="translate(113,370)"><rect class="nh" width="34" height="5"/><text class="nt" x="2" y="3.6">AttributeExposer_3</text><rect class="np" x="3" y="5" width="29" height="4.5"/><text class="pt" x="5" y="8.2">Output</text></g>
<g id="n-r1-4" transform="translate(161,370)"><rect class="nh" width="33" height="5"/><text class="nt" x="2" y="3.6">JSONFlattener</text><rect class="np" x="3" y="5" width="28" height="4.5"/><text class="pt" x="5" y="8.2">Output</text><rect class="np" x="3" y="9.5" width="28" height="4.5"/><text class="pt" x="5" y="12.7">&lt;Rejected&gt;</text></g>
<g id="n-r1-5" transform="translate(210,370)"><rect class="nh" width="32" height="5"/><text class="nt" x="2" y="3.6">Counter</text><rect class="np" x="3" y="5" width="27" height="4.5"/><text class="pt" x="5" y="8.2">Output</text></g>
<g id="n-r1-6" transform="translate(262,370)"><rect class="nh" width="33" height="5"/><text class="nt" x="2" y="3.6">JSONFlattener_3</text><rect class="np" x="3" y="5" width="28" height="4.5"/><text class="pt" x="5" y="8.2">Output</text><rect class="np" x="3" y="9.5" width="28" height="4.5"/><text class="pt" x="5" y="12.7">&lt;Rejected&gt;</text></g>
<g id="n-r1-7" transform="translate(314,370)"><rect class="nh" width="33" height="5"/><text class="nt" x="2" y="3.6">DateTimeConverter_2</text><rect class="np" x="3" y="5" width="28" height="4.5"/><text class="pt" x="5" y="8.2">Output</text><rect class="np" x="3" y="9.5" width="28" height="4.5"/><text class="pt" x="5" y="12.7">&lt;Rejected&gt;</text></g>
<g id="n-r1-7b" transform="translate(314,389)"><rect class="nh" width="33" height="5"/><text class="nt" x="2" y="3.6">DateTimeConverter_3</text><rect class="np" x="3" y="5" width="28" height="4.5"/><text class="pt" x="5" y="8.2">Output</text><rect class="np" x="3" y="9.5" width="28" height="4.5"/><text class="pt" x="5" y="12.7">&lt;Rejected&gt;</text></g>
<g id="n-r1-7c" transform="translate(314,409)"><rect class="nh" width="33" height="5"/><text class="nt" x="2" y="3.6">DateTimeConverter_4</text><rect class="np" x="3" y="5" width="28" height="4.5"/><text class="pt" x="5" y="8.2">Output</text><rect class="np" x="3" y="9.5" width="28" height="4.5"/><text class="pt" x="5" y="12.7">&lt;Rejected&gt;</text></g>
<g id="n-r1-8" transform="translate(366,370)"><rect class="nh" width="34" height="5"/><text class="nt" x="2" y="3.6">AttributeManager_24</text><rect class="np" x="3" y="5" width="29" height="4.5"/><text class="pt" x="5" y="8.2">Output</text></g>
<g id="n-r1-9" transform="translate(417,370)"><rect class="nh" width="35" height="5"/><text class="nt" x="2" y="3.6">AttributeManager_5</text><rect class="np" x="3" y="5" width="30" height="4.5"/><text class="pt" x="5" y="8.2">Output</text></g>
<g id="n-r1-10" transform="translate(468,370)"><rect class="nh" width="35" height="5"/><text class="nt" x="2" y="3.6">AttributeManager_6</text><rect class="np" x="3" y="5" width="30" height="4.5"/><text class="pt" x="5" y="8.2">Output</text></g>
<g id="n-r1-11" transform="translate(521,370)"><rect class="nh" width="34" height="5"/><text class="nt" x="2" y="3.6">AttributeManager_9</text><rect class="np" x="3" y="5" width="29" height="4.5"/><text class="pt" x="5" y="8.2">Output</text></g>
<g id="n-r1-12" transform="translate(572,370)"><rect class="nh" width="35" height="5"/><text class="nt" x="2" y="3.6">ListAttributeRemover</text><rect class="np" x="3" y="5" width="30" height="4.5"/><text class="pt" x="5" y="8.2">Output</text></g>
<g id="n-r1-13" transform="translate(624,370)"><rect class="nh" width="34" height="5"/><text class="nt" x="2" y="3.6">Aggregator_3</text><rect class="np" x="3" y="5" width="29" height="4.5"/><text class="pt" x="5" y="8.2">Aggregate</text></g>
<g id="n-r1-14" transform="translate(677,370)"><rect class="nh" width="33" height="5"/><text class="nt" x="2" y="3.6">Tester_14</text><rect class="np" x="3" y="5" width="28" height="4.5"/><text class="pt" x="5" y="8.2">Passed</text><rect class="np" x="3" y="9.5" width="28" height="4.5"/><text class="pt" x="5" y="12.7">Failed</text></g>
<g id="n-r1-15" transform="translate(735,370)"><rect class="nh" width="35" height="5"/><text class="nt" x="2" y="3.6">AttributeManager_10</text><rect class="np" x="3" y="5" width="30" height="4.5"/><text class="pt" x="5" y="8.2">Output</text></g>
<g id="n-r1-16" transform="translate(735,386)"><rect class="nh" width="35" height="5"/><text class="nt" x="2" y="3.6">AttributeManager_11</text><rect class="np" x="3" y="5" width="30" height="4.5"/><text class="pt" x="5" y="8.2">Output</text></g>
<g id="n-r1-17" transform="translate(796,370)"><rect class="nh" width="33" height="5"/><text class="nt" x="2" y="3.6">AttributeCreator_3</text><rect class="np" x="3" y="5" width="28" height="4.5"/><text class="pt" x="5" y="8.2">Output</text></g>
<g id="n-r1-dis" transform="translate(63,414)"><rect class="nd" width="35" height="5"/><text class="nt" x="2" y="3.6" fill="#56677a">JSONValidator_2</text><circle cx="32.5" cy="2.5" r="1.6" fill="#e0603a" stroke="#a03a20" stroke-width="0.4"/><rect class="npd" x="3" y="5" width="30" height="4.5"/><text class="pt" x="5" y="8.2">Passed</text><rect class="npd" x="3" y="9.5" width="30" height="4.5"/><text class="pt" x="5" y="12.7">Failed</text></g>

<g id="n-sc2" transform="translate(17,497)"><rect class="nh" width="34" height="5"/><text class="nt" x="2" y="3.6">StringConcatenator_2</text><rect class="np" x="3" y="5" width="29" height="4.5"/><text class="pt" x="5" y="8.2">Output</text></g>
<g id="n-sc14" transform="translate(17,513)"><rect class="nh" width="34" height="5"/><text class="nt" x="2" y="3.6">StringConcatenator_14</text><rect class="np" x="3" y="5" width="29" height="4.5"/><text class="pt" x="5" y="8.2">Output</text></g>
<g id="n-sc7" transform="translate(17,528)"><rect class="nh" width="34" height="5"/><text class="nt" x="2" y="3.6">StringConcatenator_7</text><rect class="np" x="3" y="5" width="29" height="4.5"/><text class="pt" x="5" y="8.2">Output</text></g>
<g id="n-sc3" transform="translate(17,544)"><rect class="nh" width="34" height="5"/><text class="nt" x="2" y="3.6">StringConcatenator_3</text><rect class="np" x="3" y="5" width="29" height="4.5"/><text class="pt" x="5" y="8.2">Output</text></g>
<g id="n-sc5" transform="translate(17,560)"><rect class="nh" width="34" height="5"/><text class="nt" x="2" y="3.6">StringConcatenator_5</text><rect class="np" x="3" y="5" width="29" height="4.5"/><text class="pt" x="5" y="8.2">Output</text></g>
<g id="n-sc11" transform="translate(17,576)"><rect class="nh" width="34" height="5"/><text class="nt" x="2" y="3.6">StringConcatenator_11</text><rect class="np" x="3" y="5" width="29" height="4.5"/><text class="pt" x="5" y="8.2">Output</text></g>
<g id="n-sc12" transform="translate(17,592)"><rect class="nh" width="34" height="5"/><text class="nt" x="2" y="3.6">StringConcatenator_12</text><rect class="np" x="3" y="5" width="29" height="4.5"/><text class="pt" x="5" y="8.2">Output</text></g>
<g id="n-sc13" transform="translate(17,608)"><rect class="nh" width="34" height="5"/><text class="nt" x="2" y="3.6">StringConcatenator_13</text><rect class="np" x="3" y="5" width="29" height="4.5"/><text class="pt" x="5" y="8.2">Output</text></g>
<g id="n-t15" transform="translate(17,623)"><rect class="nh" width="34" height="5"/><text class="nt" x="2" y="3.6">Tester_15</text><rect class="np" x="3" y="5" width="29" height="4.5"/><text class="pt" x="5" y="8.2">Passed</text><rect class="np" x="3" y="9.5" width="29" height="4.5"/><text class="pt" x="5" y="12.7">Failed</text></g>
<g id="n-as7" transform="translate(73,497)"><rect class="nh" width="33" height="5"/><text class="nt" x="2" y="3.6">AttributeSplitter_7</text><rect class="np" x="3" y="5" width="28" height="4.5"/><text class="pt" x="5" y="8.2">Output</text></g>
<g id="n-as5" transform="translate(73,513)"><rect class="nh" width="33" height="5"/><text class="nt" x="2" y="3.6">AttributeSplitter_5</text><rect class="np" x="3" y="5" width="28" height="4.5"/><text class="pt" x="5" y="8.2">Output</text></g>
<g id="n-as6" transform="translate(73,528)"><rect class="nh" width="33" height="5"/><text class="nt" x="2" y="3.6">AttributeSplitter_6</text><rect class="np" x="3" y="5" width="28" height="4.5"/><text class="pt" x="5" y="8.2">Output</text></g>
<g id="n-as3" transform="translate(73,544)"><rect class="nh" width="33" height="5"/><text class="nt" x="2" y="3.6">AttributeSplitter_3</text><rect class="np" x="3" y="5" width="28" height="4.5"/><text class="pt" x="5" y="8.2">Output</text></g>
<g id="n-as" transform="translate(73,560)"><rect class="nh" width="33" height="5"/><text class="nt" x="2" y="3.6">AttributeSplitter</text><rect class="np" x="3" y="5" width="28" height="4.5"/><text class="pt" x="5" y="8.2">Output</text></g>
<g id="n-as2" transform="translate(73,576)"><rect class="nh" width="33" height="5"/><text class="nt" x="2" y="3.6">AttributeSplitter_2</text><rect class="np" x="3" y="5" width="28" height="4.5"/><text class="pt" x="5" y="8.2">Output</text></g>
<g id="n-as4" transform="translate(73,592)"><rect class="nh" width="33" height="5"/><text class="nt" x="2" y="3.6">AttributeSplitter_4</text><rect class="np" x="3" y="5" width="28" height="4.5"/><text class="pt" x="5" y="8.2">Output</text></g>
<g id="n-amx" transform="translate(72,627)"><rect class="nh" width="33" height="5"/><text class="nt" x="2" y="3.6">AttributeManager_x</text><rect class="np" x="3" y="5" width="28" height="4.5"/><text class="pt" x="5" y="8.2">Output</text></g>

<g id="n-am16" transform="translate(122,559)"><rect class="nh" width="33" height="5"/><text class="nt" x="2" y="3.6">AttributeManager_16</text><rect class="np" x="3" y="5" width="28" height="4.5"/><text class="pt" x="5" y="8.2">Output</text></g>
<g id="n-ll3" transform="translate(169,559)"><rect class="nh" width="33" height="5"/><text class="nt" x="2" y="3.6">LatLonCreator_3</text><rect class="np" x="3" y="5" width="28" height="4.5"/><text class="pt" x="5" y="8.2">Output</text></g>
<g id="n-am14" transform="translate(169,576)"><rect class="nh" width="33" height="5"/><text class="nt" x="2" y="3.6">AttributeManager_14</text><rect class="np" x="3" y="5" width="28" height="4.5"/><text class="pt" x="5" y="8.2">Output</text></g>
<g id="n-am17" transform="translate(223,559)"><rect class="nh" width="32" height="5"/><text class="nt" x="2" y="3.6">AttributeManager_17</text><rect class="np" x="3" y="5" width="27" height="4.5"/><text class="pt" x="5" y="8.2">Output</text></g>
<g id="n-ll4" transform="translate(269,559)"><rect class="nh" width="34" height="5"/><text class="nt" x="2" y="3.6">LatLonCreator_4</text><rect class="np" x="3" y="5" width="29" height="4.5"/><text class="pt" x="5" y="8.2">Output</text></g>
<g id="n-am15" transform="translate(269,575)"><rect class="nh" width="34" height="5"/><text class="nt" x="2" y="3.6">AttributeManager_15</text><rect class="np" x="3" y="5" width="29" height="4.5"/><text class="pt" x="5" y="8.2">Output</text></g>
<g id="n-am18" transform="translate(322,559)"><rect class="nh" width="33" height="5"/><text class="nt" x="2" y="3.6">AttributeManager_18</text><rect class="np" x="3" y="5" width="28" height="4.5"/><text class="pt" x="5" y="8.2">Output</text></g>
<g id="n-t11" transform="translate(367,559)"><rect class="nh" width="31" height="5"/><text class="nt" x="2" y="3.6">Tester_11</text><rect class="np" x="3" y="5" width="26" height="4.5"/><text class="pt" x="5" y="8.2">Passed</text><rect class="np" x="3" y="9.5" width="26" height="4.5"/><text class="pt" x="5" y="12.7">Failed</text></g>
<g id="n-am19" transform="translate(418,559)"><rect class="nh" width="34" height="5"/><text class="nt" x="2" y="3.6">AttributeManager_19</text><rect class="np" x="3" y="5" width="29" height="4.5"/><text class="pt" x="5" y="8.2">Output</text></g>
<g id="n-am21" transform="translate(418,575)"><rect class="nh" width="34" height="5"/><text class="nt" x="2" y="3.6">AttributeManager_21</text><rect class="np" x="3" y="5" width="29" height="4.5"/><text class="pt" x="5" y="8.2">Output</text></g>
<g id="n-ll5" transform="translate(470,559)"><rect class="nh" width="35" height="5"/><text class="nt" x="2" y="3.6">LatLonCreator_5</text><rect class="np" x="3" y="5" width="30" height="4.5"/><text class="pt" x="5" y="8.2">Output</text></g>
<g id="n-am23" transform="translate(470,575)"><rect class="nh" width="35" height="5"/><text class="nt" x="2" y="3.6">AttributeManager_23</text><rect class="np" x="3" y="5" width="30" height="4.5"/><text class="pt" x="5" y="8.2">Output</text></g>
<g id="n-t12" transform="translate(527,559)"><rect class="nh" width="32" height="5"/><text class="nt" x="2" y="3.6">Tester_12</text><rect class="np" x="3" y="5" width="27" height="4.5"/><text class="pt" x="5" y="8.2">Passed</text><rect class="np" x="3" y="9.5" width="27" height="4.5"/><text class="pt" x="5" y="12.7">Failed</text></g>
<g id="n-am25" transform="translate(582,559)"><rect class="nh" width="33" height="5"/><text class="nt" x="2" y="3.6">AttributeManager_25</text><rect class="np" x="3" y="5" width="28" height="4.5"/><text class="pt" x="5" y="8.2">Output</text></g>
<g id="n-am26" transform="translate(582,575)"><rect class="nh" width="33" height="5"/><text class="nt" x="2" y="3.6">AttributeManager_26</text><rect class="np" x="3" y="5" width="28" height="4.5"/><text class="pt" x="5" y="8.2">Output</text></g>
<g id="n-arem2" transform="translate(637,567)"><rect class="nh" width="31" height="5"/><text class="nt" x="2" y="3.6">AttributeRemover_2</text><rect class="np" x="3" y="5" width="26" height="4.5"/><text class="pt" x="5" y="8.2">Output</text></g>
<g id="n-am20" transform="translate(688,567)"><rect class="nh" width="32" height="5"/><text class="nt" x="2" y="3.6">AttributeManager_20</text><rect class="np" x="3" y="5" width="27" height="4.5"/><text class="pt" x="5" y="8.2">Output</text></g>
<g id="n-t13" transform="translate(739,567)"><rect class="nh" width="33" height="5"/><text class="nt" x="2" y="3.6">Tester_13</text><rect class="np" x="3" y="5" width="28" height="4.5"/><text class="pt" x="5" y="8.2">Passed</text><rect class="np" x="3" y="9.5" width="28" height="4.5"/><text class="pt" x="5" y="12.7">Failed</text></g>
<g id="n-sorter" transform="translate(790,567)"><rect class="nh" width="32" height="5"/><text class="nt" x="2" y="3.6">Sorter</text><rect class="np" x="3" y="5" width="27" height="4.5"/><text class="pt" x="5" y="8.2">Sorted</text></g>

<g id="n-dr2" transform="translate(18,735)"><rect class="nh" width="33" height="5"/><text class="nt" x="2" y="3.6">DuplicateRemover_2</text><rect class="np" x="3" y="5" width="28" height="4.5"/><text class="pt" x="5" y="8.2">Unique</text><rect class="np" x="3" y="9.5" width="28" height="4.5"/><text class="pt" x="5" y="12.7">Duplicate</text></g>
<g id="n-t9" transform="translate(68,735)"><rect class="nh" width="32" height="5"/><text class="nt" x="2" y="3.6">Tester_9</text><rect class="np" x="3" y="5" width="27" height="4.5"/><text class="pt" x="5" y="8.2">Passed</text><rect class="np" x="3" y="9.5" width="27" height="4.5"/><text class="pt" x="5" y="12.7">Failed</text></g>
<g id="n-t4" transform="translate(129,720)"><rect class="nh" width="34" height="5"/><text class="nt" x="2" y="3.6">Tester_4</text><rect class="np" x="3" y="5" width="29" height="4.5"/><text class="pt" x="5" y="8.2">Passed</text></g>
<g id="n-dr4" transform="translate(177,720)"><rect class="nh" width="33" height="5"/><text class="nt" x="2" y="3.6">DuplicateRemover_4</text><rect class="np" x="3" y="5" width="28" height="4.5"/><text class="pt" x="5" y="8.2">Unique</text><rect class="np" x="3" y="9.5" width="28" height="4.5"/><text class="pt" x="5" y="12.7">Duplicate</text></g>
<g id="n-t2" transform="translate(240,735)"><rect class="nh" width="33" height="5"/><text class="nt" x="2" y="3.6">Tester_2</text><rect class="np" x="3" y="5" width="28" height="4.5"/><text class="pt" x="5" y="8.2">Passed</text><rect class="np" x="3" y="9.5" width="28" height="4.5"/><text class="pt" x="5" y="12.7">Failed</text></g>
<g id="n-t5" transform="translate(300,719)"><rect class="nh" width="33" height="5"/><text class="nt" x="2" y="3.6">Tester_5</text><rect class="np" x="3" y="5" width="28" height="4.5"/><text class="pt" x="5" y="8.2">Passed</text><rect class="np" x="3" y="9.5" width="28" height="4.5"/><text class="pt" x="5" y="12.7">Failed</text></g>
<g id="n-t6" transform="translate(300,743)"><rect class="nh" width="33" height="5"/><text class="nt" x="2" y="3.6">Tester_6</text><rect class="np" x="3" y="5" width="28" height="4.5"/><text class="pt" x="5" y="8.2">Passed</text><rect class="np" x="3" y="9.5" width="28" height="4.5"/><text class="pt" x="5" y="12.7">Failed</text></g>
<g id="n-sorter2" transform="translate(350,734)"><rect class="nh" width="35" height="5"/><text class="nt" x="2" y="3.6">Sorter_2</text><rect class="np" x="3" y="5" width="30" height="4.5"/><text class="pt" x="5" y="8.2">Sorted</text></g>
<g id="n-sampler2" transform="translate(400,735)"><rect class="nh" width="35" height="5"/><text class="nt" x="2" y="3.6">Sampler_2</text><rect class="np" x="3" y="5" width="30" height="4.5"/><text class="pt" x="5" y="8.2">Sampled</text><rect class="np" x="3" y="9.5" width="30" height="4.5"/><text class="pt" x="5" y="12.7">Not Sampled</text></g>
<g id="n-am12" transform="translate(452,739)"><rect class="nh" width="31" height="5"/><text class="nt" x="2" y="3.6">AttributeManager_12</text><rect class="np" x="3" y="5" width="26" height="4.5"/><text class="pt" x="5" y="8.2">Output</text></g>
<g id="n-t7" transform="translate(502,739)"><rect class="nh" width="31" height="5"/><text class="nt" x="2" y="3.6">Tester_7</text><rect class="np" x="3" y="5" width="26" height="4.5"/><text class="pt" x="5" y="8.2">Passed</text><rect class="np" x="3" y="9.5" width="26" height="4.5"/><text class="pt" x="5" y="12.7">Failed</text></g>
<g id="n-je" transform="translate(557,716)"><rect class="nh" width="33" height="5"/><text class="nt" x="2" y="3.6">JSONExtractor</text><rect class="np" x="3" y="5" width="28" height="4.5"/><text class="pt" x="5" y="8.2">Output</text><rect class="np" x="3" y="9.5" width="28" height="4.5"/><text class="pt" x="5" y="12.7">&lt;Rejected&gt;</text></g>
<g id="n-je2" transform="translate(557,752)"><rect class="nh" width="33" height="5"/><text class="nt" x="2" y="3.6">JSONExtractor_2</text><rect class="np" x="3" y="5" width="28" height="4.5"/><text class="pt" x="5" y="8.2">Output</text><rect class="np" x="3" y="9.5" width="28" height="4.5"/><text class="pt" x="5" y="12.7">&lt;Rejected&gt;</text></g>
<g id="n-agg" transform="translate(617,734)"><rect class="nh" width="33" height="5"/><text class="nt" x="2" y="3.6">Aggregator</text><rect class="np" x="3" y="5" width="28" height="4.5"/><text class="pt" x="5" y="8.2">Aggregate</text></g>
<g id="n-t8" transform="translate(665,735)"><rect class="nh" width="32" height="5"/><text class="nt" x="2" y="3.6">Tester_8</text><rect class="np" x="3" y="5" width="27" height="4.5"/><text class="pt" x="5" y="8.2">Passed</text><rect class="np" x="3" y="9.5" width="27" height="4.5"/><text class="pt" x="5" y="12.7">Failed</text></g>
<g id="n-am22" transform="translate(717,728)"><rect class="nh" width="33" height="5"/><text class="nt" x="2" y="3.6">AttributeManager_22</text><rect class="np" x="3" y="5" width="28" height="4.5"/><text class="pt" x="5" y="8.2">Output</text></g>
<g id="n-am27" transform="translate(717,743)"><rect class="nh" width="33" height="5"/><text class="nt" x="2" y="3.6">AttributeManager_27</text><rect class="np" x="3" y="5" width="28" height="4.5"/><text class="pt" x="5" y="8.2">Output</text></g>
<g id="w-result"><rect class="rd" x="772" y="734" width="58" height="7" rx="3.5"/><text class="rt" x="776" y="738.5">CT_Resultat_2014_Sverige</text><circle class="rdc" cx="826.5" cy="737.5" r="3"/></g>
</g>

<g id="tooltip">
<rect x="572" y="415" width="90" height="54" fill="#ffffff" stroke="#8a8a8a" stroke-width="0.8" filter="url(#sh)"/>
<text x="576" y="424" font-family="Liberation Sans, Arial, sans-serif" font-size="7.2" font-weight="bold" fill="#333">Bearbetar svar från OTP</text>
<text x="576" y="434" font-family="Liberation Sans, Arial, sans-serif" font-size="7" fill="#555">Contents:</text>
<text x="581" y="444" font-family="Liberation Sans, Arial, sans-serif" font-size="7" fill="#555">Transformers: 74</text>
<text x="581" y="455" font-family="Liberation Sans, Arial, sans-serif" font-size="7" fill="#555">Writer Feature Types: 1</text>
</g>

<rect id="highlight" x="105" y="70.5" width="623" height="215.5" rx="35" fill="none" stroke="#ff0000" stroke-width="6.5"/>
</svg>
